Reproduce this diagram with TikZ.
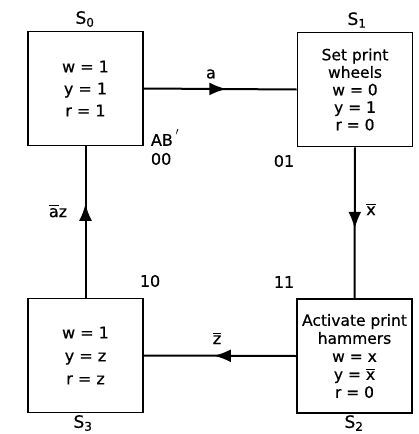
\documentclass[tikz,border=0pt]{standalone}
\usepackage{amsmath}
\usepackage{fontspec}
\setmainfont{DejaVu Sans}[FakeBold=0.6]
\usetikzlibrary{arrows.meta,decorations.markings}
\newcommand{\ovl}[1]{$\overline{\text{#1}}$}

\begin{document}
\begin{tikzpicture}[x=1pt,y=-1pt,
    state/.style={draw,line width=1.6pt,minimum width=115pt,minimum height=114pt,
      align=center,inner sep=0pt},
    flow/.style={line width=2pt,postaction={decorate},
      decoration={markings,mark=at position #1 with {\arrow{Latex[length=17pt,width=13pt]}}}},
    flow/.default=0.54,
    tag/.style={font=\fontsize{16}{19}\selectfont}]
  \useasboundingbox (0,0) rectangle (419,434);

  % states
  \node[state,font=\fontsize{16}{22}\selectfont] (s0) at (85.5,88.5)
    {w = 1\\y = 1\\r = 1};
  \node[state,font=\fontsize{15.5}{17.5}\selectfont] (s1) at (355,89.5)
    {Set print\\wheels\\w = 0\\y = 1\\r = 0};
  \node[state,font=\fontsize{15.5}{18}\selectfont] (s2) at (354.5,356)
    {Activate print\\hammers\\w = x\\y = \ovl{x}\\r = 0};
  \node[state,font=\fontsize{16}{23}\selectfont] (s3) at (85.5,355.5)
    {w = 1\\y = z\\r = z};

  % state names
  \node[tag,font=\fontsize{17}{20}\selectfont] (n0) at (85,19) {S\textsubscript{0}};
  \node[tag,font=\fontsize{17}{20}\selectfont] (n1) at (357,20) {S\textsubscript{1}};
  \node[tag,font=\fontsize{17}{20}\selectfont] (n2) at (354,423) {S\textsubscript{2}};
  \node[tag,font=\fontsize{17}{20}\selectfont] (n3) at (83,423) {S\textsubscript{3}};

  % transitions
  \draw[flow] (s0.east) -- (s1.west);
  \draw[flow] (s1.south) -- (s2.north);
  \draw[flow] (s2.west) -- (s3.east);
  \draw[flow=0.62] (s3.north) -- (s0.south);

  \node[tag] (la) at (211,74) {a};
  \node[tag] (lx) at (371,209) {\ovl{x}};
  \node[tag] (lz) at (217,338) {\ovl{z}};
  \node[tag] (laz) at (58,211) {\ovl{a}z};

  % codes AB
  \node[tag,align=left] (c00) at (165,147) {AB\,\raisebox{0.5ex}{$^{\prime}$}\\00};
  \node[tag] (c01) at (284,161) {01};
  \node[tag] (c10) at (150,281) {10};
  \node[tag] (c11) at (284,282) {11};
\end{tikzpicture}
\end{document}
